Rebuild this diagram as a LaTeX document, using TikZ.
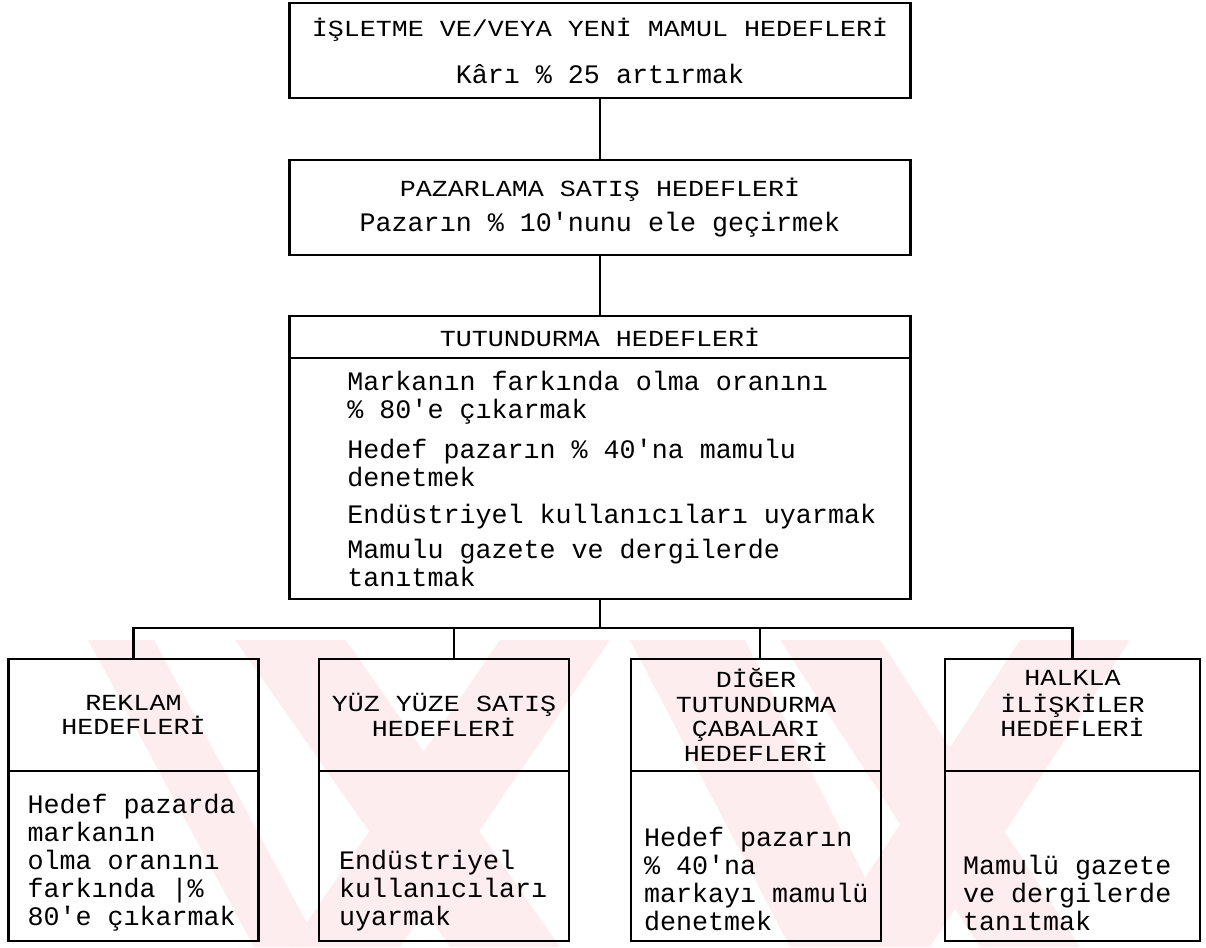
\documentclass[tikz,border=0pt]{standalone}
\usepackage{fontspec}
\setmonofont{Liberation Mono}
\newfontfamily\baslikfont{Liberation Mono}[FakeStretch=1.16]
\newcommand{\baslik}[1]{{\baslikfont\fontsize{23}{24.5}\selectfont #1}}
\usetikzlibrary{positioning}

\definecolor{filigran}{HTML}{FDEDEF}

\begin{document}
\begin{tikzpicture} [x = 1pt, y = -1pt, node distance = 157pt, on grid,
        font = \ttfamily\fontsize{26.7}{28}\selectfont,
        kutu/.style = {draw, line width = 2.6pt, minimum width = 621pt,
            align = center, inner sep = 0pt},
        baslikkutu/.style = {draw, line width = 2.4pt, minimum width = 250pt,
            minimum height = 112pt, align = center, inner sep = 0pt,
            font = \baslikfont\fontsize{23}{24.5}\selectfont},
        govde/.style = {draw, line width = 2.4pt, minimum width = 250pt,
            minimum height = 170pt},
        metin/.style = {inner sep = 0pt, align = left, anchor = south west},
        hat/.style = {line width = 2.6pt}]

        \useasboundingbox (0,0) rectangle (1206,947);

        % filigran
        \begin{scope}
            \clip (0,640) rectangle (1206,947);
            \fill [filigran] (88,640) -- (154,640) -- (320,947) -- (254,947) -- cycle;
            \fill [filigran] (235,640) -- (346,640) -- (560,947) -- (450,947) -- cycle;
            \fill [filigran] (500,640) -- (610,640) -- (400,947) -- (290,947) -- cycle;
            \fill [filigran] (630,640) -- (745,640) -- (900,947) -- (790,947) -- cycle;
            \fill [filigran] (780,640) -- (880,640) -- (1080,947) -- (980,947) -- cycle;
            \fill [filigran] (1020,640) -- (1130,640) -- (930,947) -- (820,947) -- cycle;
        \end{scope}

        \node (isletme) [kutu, minimum height = 95pt] at (600,50.5)
            {\baslik{İŞLETME VE/VEYA YENİ MAMUL HEDEFLERİ}\\[19pt]
             Kârı \% 25 artırmak};
        \node (pazarlama) [kutu, minimum height = 95pt, below = of isletme]
            {\baslik{PAZARLAMA SATIŞ HEDEFLERİ}\\[7pt]
             Pazarın \% 10'nunu ele geçirmek};
        \node (tutundurma) [kutu, minimum height = 42pt, below = 129.5pt of
            pazarlama] {\baslik{TUTUNDURMA HEDEFLERİ}};
        \node (amaclar) [kutu, minimum height = 241pt, below = 141.5pt of
            tutundurma] {};
        \node (amaclarmetin) [right = 59pt of amaclar.west, anchor = west,
            inner sep = 0pt, align = left]
            {Markanın farkında olma oranını\\\% 80'e çıkarmak\\[12pt]
             Hedef pazarın \% 40'na mamulu\\denetmek\\[9pt]
             Endüstriyel kullanıcıları uyarmak\\[7pt]
             Mamulu gazete ve dergilerde\\tanıtmak};

        \node (reklam) [baslikkutu] at (133.5,715) {REKLAM\\HEDEFLERİ};
        \node (yuzyuze) [baslikkutu, right = 310.5pt of reklam]
            {YÜZ YÜZE SATIŞ\\HEDEFLERİ};
        \node (diger) [baslikkutu, right = 312pt of yuzyuze]
            {DİĞER\\TUTUNDURMA\\ÇABALARI\\HEDEFLERİ};
        \node (halkla) [baslikkutu, minimum width = 255pt, right = 316.5pt of diger]
            {HALKLA\\[2pt]İLİŞKİLER\\HEDEFLERİ\\[-2pt]};

        \node (reklamg) [govde, below = 141pt of reklam] {};
        \node (yuzyuzeg) [govde, below = 141pt of yuzyuze] {};
        \node (digerg) [govde, below = 141pt of diger] {};
        \node (halklag) [govde, minimum width = 255pt, below = 141pt of halkla] {};

        \node (reklamm) [above right = 11pt and 20pt of reklamg.south west, metin]
            {Hedef pazarda\\markanın\\olma oranını\\farkında |\%\\80'e çıkarmak};
        \node (yuzyuzem) [above right = 11pt and 21pt of yuzyuzeg.south west, metin]
            {Endüstriyel\\kullanıcıları\\uyarmak};
        \node (digerm) [above right = 11pt and 14pt of digerg.south west, metin]
            {Hedef pazarın\\\% 40'na\\markayı mamulü\\denetmek};
        \node (halklam) [above right = 11pt and 19pt of halklag.south west, metin]
            {Mamulü gazete\\ve dergilerde\\tanıtmak};

        \coordinate (dal) at (600,628);

        \path [hat]
            (isletme) edge (pazarlama)
            (pazarlama) edge (tutundurma)
            (amaclar) edge (dal)
            ([xshift = 10pt]yuzyuze.north) edge ([xshift = 10pt]yuzyuze.north |- dal)
            ([xshift = 4pt]diger.north) edge ([xshift = 4pt]diger.north |- dal);
        \draw [hat] (reklam) |- (dal) -| (halkla);

    \end{tikzpicture}
\end{document}
